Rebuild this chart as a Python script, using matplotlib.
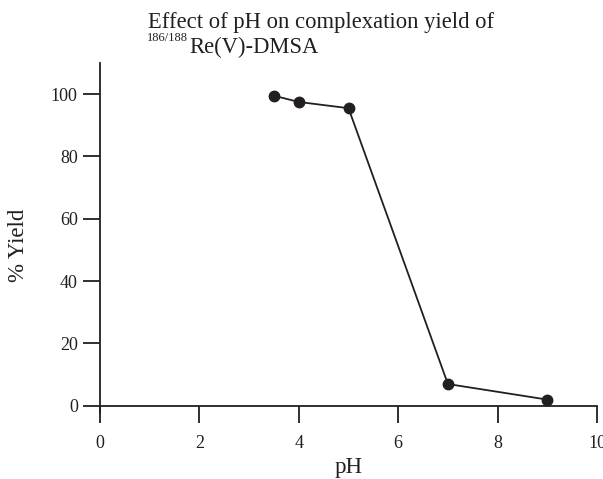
import matplotlib
matplotlib.use("Agg")
import matplotlib.pyplot as plt

ph = [3.5, 4, 5, 7, 9]
yield_pct = [99.5, 97.5, 95.5, 7, 2]
xticks = [0, 2, 4, 6, 8, 10]
yticks = [0, 20, 40, 60, 80, 100]

plt.rcParams['font.family'] = ['Liberation Serif', 'DejaVu Serif']

ink = '#231f20'
fig = plt.figure(figsize=(6.03, 4.79), dpi=100)
ax = fig.add_axes([100/603, 1-413/479, 497/603, 350/479])
ax.plot(ph, yield_pct, color=ink, lw=1.3, marker='o', ms=7.5, mfc=ink, mec=ink)
ax.set_xlim(0, 10)
ax.set_ylim(-2.3, 110)
ax.spines['top'].set_visible(False)
ax.spines['right'].set_visible(False)
ax.spines['bottom'].set_position(('data', 0))
for s in ['left', 'bottom']:
    ax.spines[s].set_linewidth(1.3)
    ax.spines[s].set_color(ink)
ax.set_xticks(xticks)
ax.set_yticks(yticks)
ax.tick_params(axis='both', direction='out', length=12, width=1.3, color=ink,
               labelsize=13, labelcolor=ink)
ax.tick_params(axis='x', pad=9)
ax.tick_params(axis='y', pad=4)
ax.set_xlabel('pH', fontsize=16.5, color=ink)
ax.set_ylabel('% Yield', fontsize=16.5, color=ink)
ax.xaxis.set_label_coords(0.5, (413-457)/350)
ax.yaxis.set_label_coords((29-100)/497, (413-245)/350)
fig.text(148/603, 1-28/479, 'Effect of pH on complexation yield of', fontsize=16.3,
         color=ink, ha='left', va='baseline')
fig.text(147/603, 1-41/479, '186/188', fontsize=9, color=ink, ha='left', va='baseline')
fig.text(189/603, 1-53/479, 'Re(V)-DMSA', fontsize=16.3, color=ink, ha='left', va='baseline')
fig.savefig('out.png', dpi=100)
